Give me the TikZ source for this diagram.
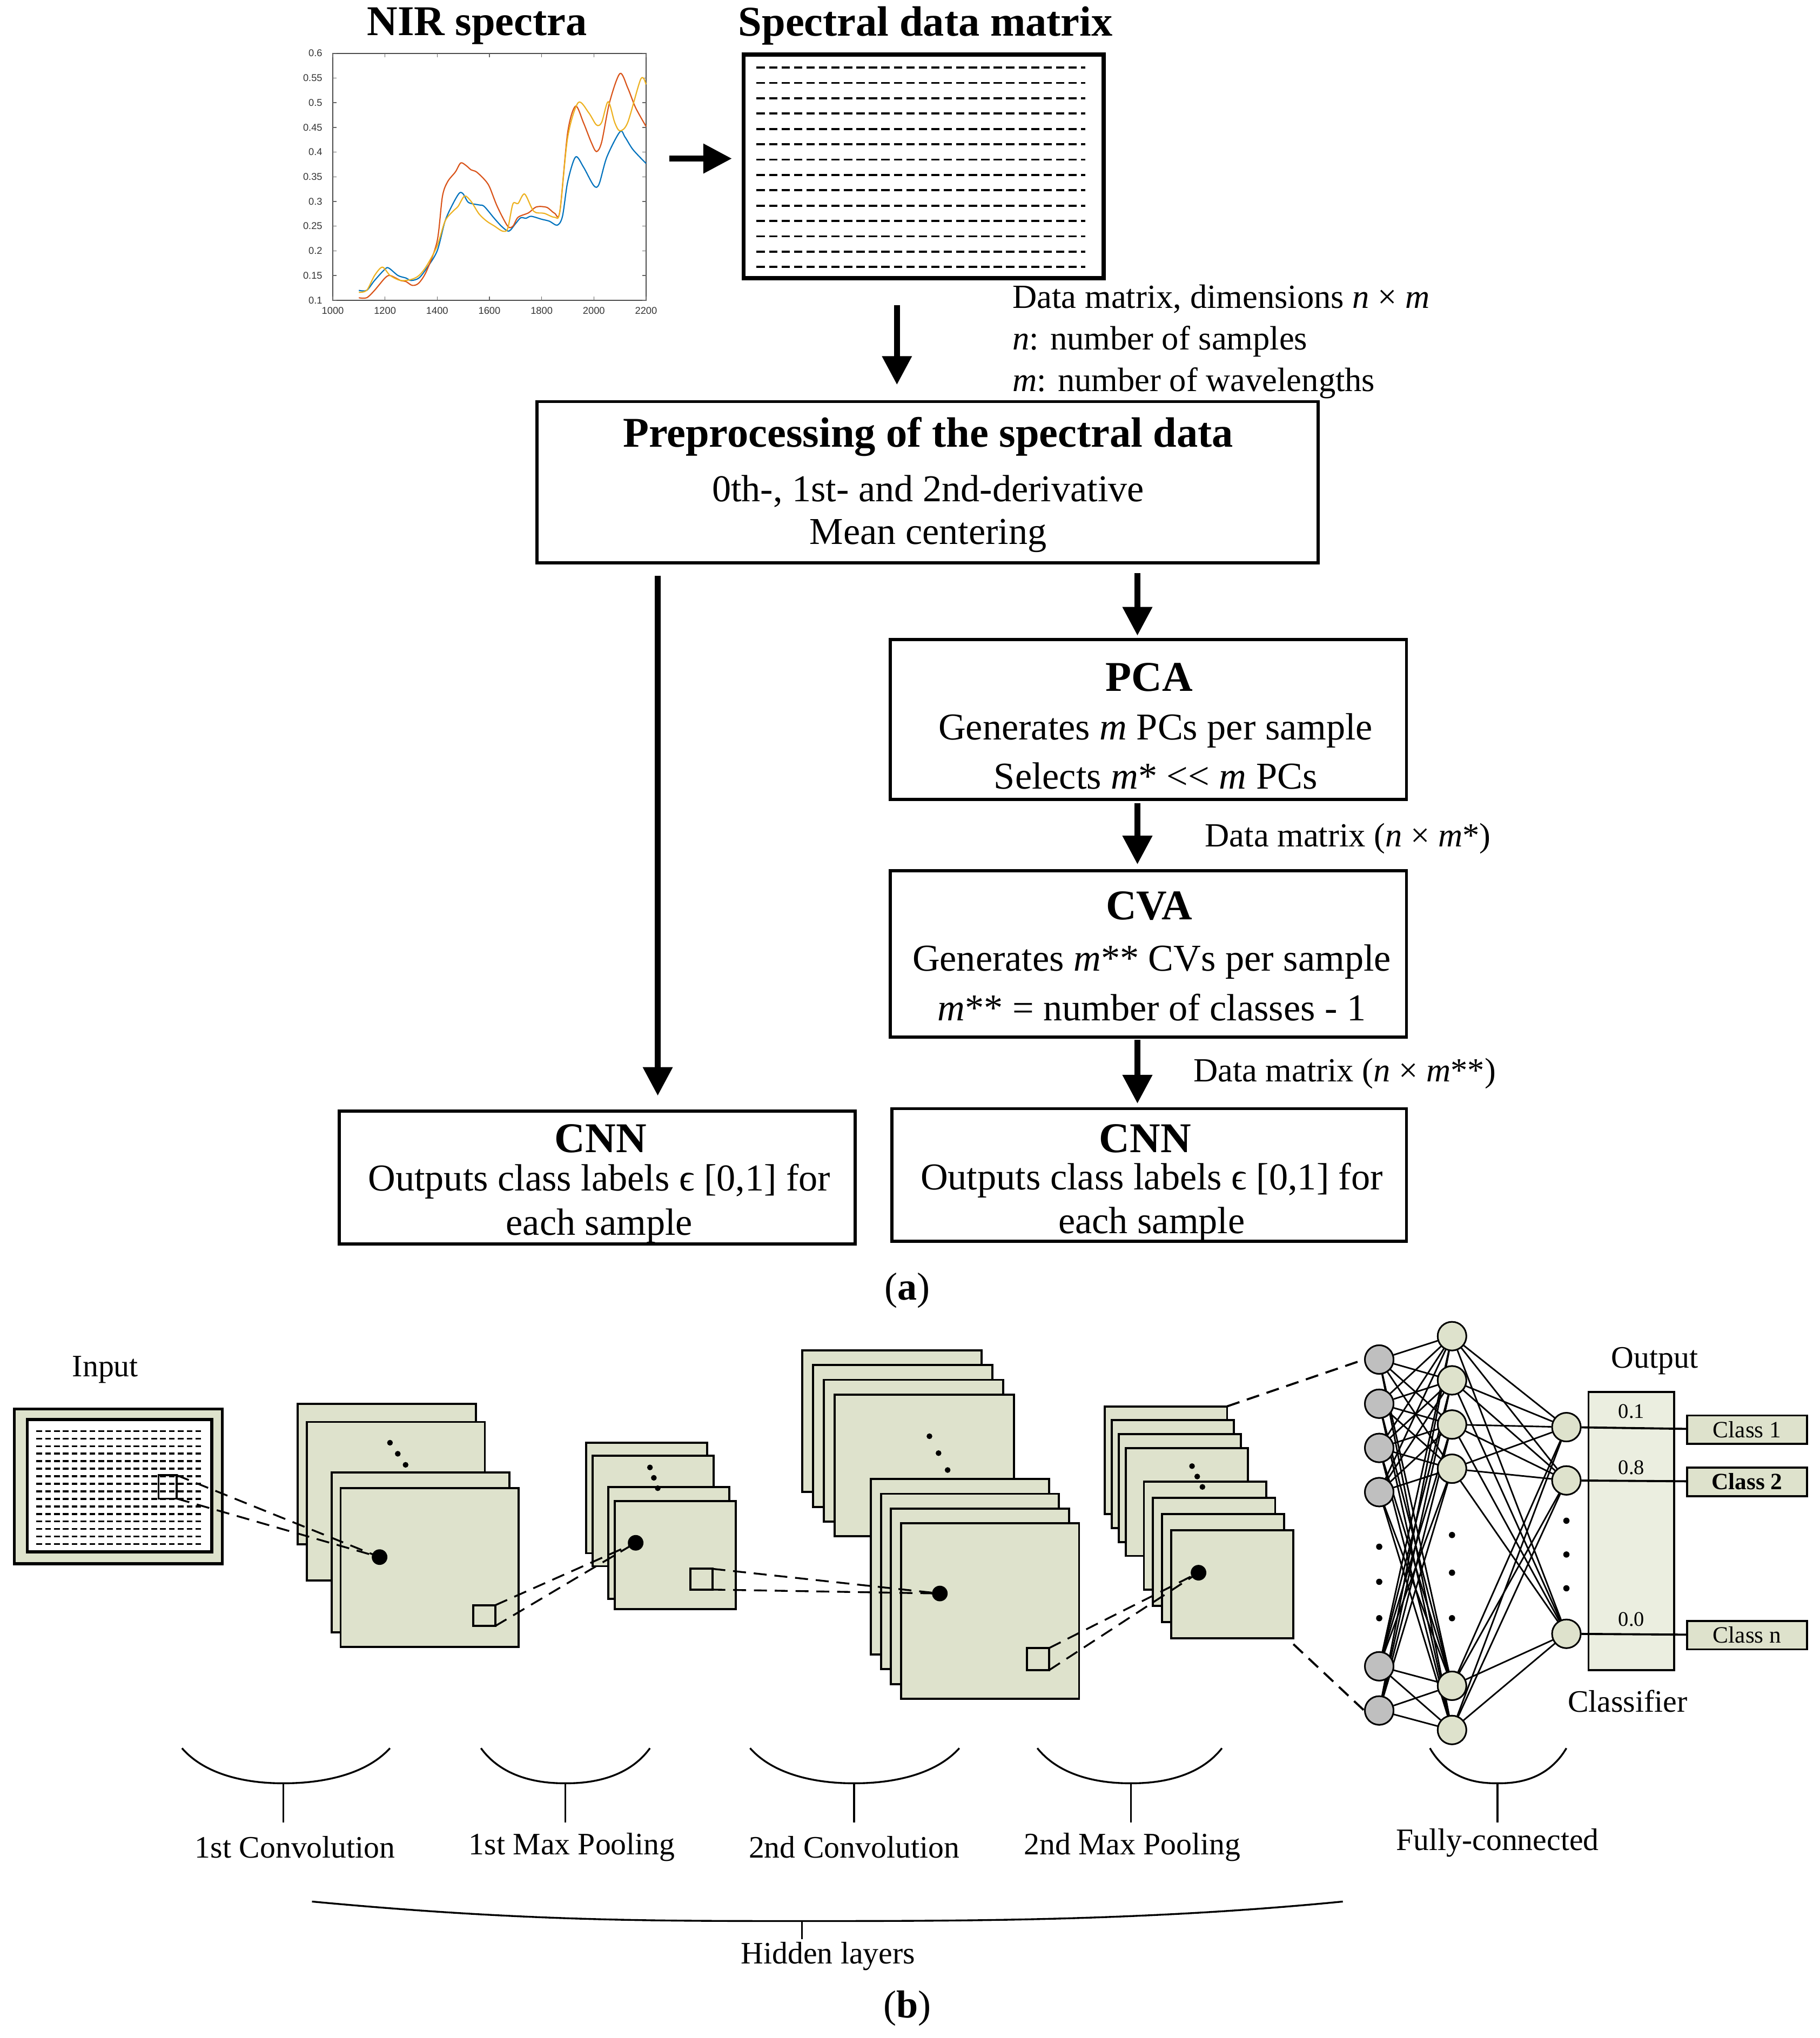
\documentclass[tikz,border=0pt]{standalone}
\usepackage{fontspec}
\setmainfont{Liberation Serif}
\newfontfamily\axf{Liberation Sans}
\usetikzlibrary{arrows.meta}
\definecolor{fmc}{RGB}{222,226,204}
\definecolor{cb}{RGB}{0,114,189}
\definecolor{cr}{RGB}{217,83,25}
\definecolor{cy}{RGB}{237,177,32}
\begin{document}
\begin{tikzpicture}[x=0.5pt,y=-0.5pt,
  box/.style={draw,line width=1.2pt,minimum width=#1,inner sep=0pt},
  bigarrow/.style={line width=2.2pt,-{Triangle[length=11pt,width=11pt]}},
  fm/.style={draw,line width=0.8pt,fill=fmc},
  cl/.style={draw,line width=0.8pt,fill=fmc,minimum width=92*0.5pt,minimum height=22*0.5pt,inner sep=0pt,font=\fontsize{9}{10}\selectfont},
  neu/.style={circle,draw,line width=0.6pt,fill=fmc,minimum size=11pt,inner sep=0pt},
  neg/.style={circle,draw,line width=0.6pt,fill=black!25,minimum size=11pt,inner sep=0pt},
  dsh/.style={line width=0.7pt,dash pattern=on 5pt off 3pt},
  lbl/.style={font=\fontsize{13}{15}\selectfont},
  blbl/.style={font=\fontsize{12}{14}\selectfont},
  bt/.style={font=\fontsize{14.6}{17}\selectfont},
  ttl/.style={font=\bfseries\fontsize{16.3}{19}\selectfont}]
\useasboundingbox (0,0) rectangle (1400,1568);
% ---------- (a) ----------
\node[ttl] (nirt) at (367,20) {NIR spectra};
\node[ttl] (sdmt) at (712,20) {Spectral data matrix};
% plot
\draw[line width=0.4pt,black!70] (256,41) rectangle (497,231);
\foreach \i/\v in {0/1000,1/1200,2/1400,3/1600,4/1800,5/2000,6/2200}{
  \node[font=\axf\fontsize{3.8}{4}\selectfont,black!80] at (256+\i*40.17,239) {\v};
  \draw[black!60,line width=0.3pt] (256+\i*40.17,231) -- ++(0,-3) (256+\i*40.17,41) -- ++(0,3);}
\foreach \i/\v in {0/0.1,1/0.15,2/0.2,3/0.25,4/0.3,5/0.35,6/0.4,7/0.45,8/0.5,9/0.55,10/0.6}{
  \node[font=\axf\fontsize{3.8}{4}\selectfont,black!80,anchor=east] at (255,231-\i*19) {\v};
  \draw[black!60,line width=0.3pt] (256,231-\i*19) -- ++(3,0) (497,231-\i*19) -- ++(-3,0);}
\begin{scope}[shift={(256,231)},x=0.1004pt,y=190pt,line width=0.45pt]
\draw[cb] plot[smooth,tension=0.5] coordinates {(100,.02)(130,.02)(160,.04)(200,.063)(215,.065)(250,.05)(280,.045)(300,.04)(330,.045)(360,.065)(400,.1)(430,.16)(460,.195)(485,.217)(500,.215)(520,.198)(560,.193)(580,.19)(620,.165)(650,.148)(675,.14)(700,.155)(720,.167)(740,.166)(760,.17)(800,.164)(830,.16)(860,.152)(880,.17)(900,.24)(930,.29)(960,.27)(1000,.232)(1020,.235)(1050,.29)(1100,.341)(1120,.33)(1150,.305)(1200,.277)};
\draw[cr] plot[smooth,tension=0.5] coordinates {(100,.005)(130,.005)(160,.02)(200,.045)(220,.05)(260,.04)(280,.038)(305,.03)(330,.035)(360,.06)(400,.12)(420,.21)(440,.24)(470,.26)(490,.278)(510,.273)(530,.264)(550,.26)(580,.245)(600,.23)(630,.19)(670,.15)(690,.15)(710,.168)(750,.177)(780,.189)(820,.188)(850,.176)(870,.18)(900,.34)(930,.393)(960,.36)(990,.32)(1010,.301)(1030,.32)(1060,.4)(1100,.459)(1130,.43)(1160,.39)(1200,.352)};
\draw[cy] plot[smooth,tension=0.5] coordinates {(100,.016)(130,.02)(160,.05)(190,.067)(220,.05)(260,.04)(300,.042)(330,.05)(360,.07)(400,.11)(430,.16)(460,.18)(480,.19)(505,.211)(530,.2)(560,.175)(590,.16)(620,.15)(650,.14)(670,.145)(690,.195)(710,.196)(735,.215)(770,.18)(810,.176)(850,.168)(870,.18)(900,.33)(940,.4)(980,.38)(1010,.355)(1030,.36)(1055,.402)(1080,.36)(1100,.343)(1130,.36)(1180,.448)(1200,.437)};
\end{scope}
\coordinate (a1s) at (515,122); \coordinate (a1e) at (563,122);
\draw[bigarrow] (a1s) -- (a1e);
% matrix
\node[box=277*0.5pt,minimum height=172*0.5pt,line width=1.6pt] (mat) at (710.5,128) {};
\foreach \r in {0,...,13}{\draw[line width=0.8pt,dash pattern=on 3.2pt off 1.6pt] (582,52+\r*11.8) -- (835,52+\r*11.8);}
\coordinate (a2s) at (690,235); \coordinate (a2e) at (690,296);
\draw[bigarrow] (a2s) -- (a2e);
\node[lbl,anchor=west,align=left] (dm) at (772,263) {Data matrix, dimensions \textit{n} × \textit{m}\\[1pt]\textit{n}: number of samples\\[1pt]\textit{m}: number of wavelengths};
% preprocessing
\node[box=601*0.5pt,minimum height=124*0.5pt] (pre) at (713.5,371) {};
\node[ttl] at (714,336) {Preprocessing of the spectral data};
\node[bt] at (714,378) {0th-, 1st- and 2nd-derivative};
\node[bt] at (714,412) {Mean centering};
\coordinate (a3s) at (506,443); \coordinate (a3e) at (506,843);
\draw[bigarrow] (a3s) -- (a3e);
\coordinate (a4s) at (875,441); \coordinate (a4e) at (875,489);
\draw[bigarrow] (a4s) -- (a4e);
% PCA
\node[box=397*0.5pt,minimum height=123*0.5pt] (pca) at (883.5,553.5) {};
\node[ttl] at (884,521) {PCA};
\node[bt] at (889,562) {Generates \textit{m} PCs per sample};
\node[bt] at (889,597) {Selects \textit{m}* {<}{<} \textit{m} PCs};
\coordinate (a5s) at (875,618); \coordinate (a5e) at (875,665);
\draw[bigarrow] (a5s) -- (a5e);
\node[lbl,anchor=west] (l1) at (920,645) {Data matrix (\textit{n} × \textit{m}*)};
% CVA
\node[box=397*0.5pt,minimum height=128*0.5pt] (cva) at (883.5,734) {};
\node[ttl] at (884,697) {CVA};
\node[bt] at (886,740) {Generates \textit{m}** CVs per sample};
\node[bt] at (886,775) {\textit{m}** = number of classes - 1};
\coordinate (a6s) at (875,800); \coordinate (a6e) at (875,849);
\draw[bigarrow] (a6s) -- (a6e);
\node[lbl,anchor=west] (l2) at (911,826) {Data matrix (\textit{n} × \textit{m}**)};
% CNN boxes
\node[box=397*0.5pt,minimum height=102*0.5pt] (cnn1) at (459.5,906) {};
\node[ttl] at (462,876) {CNN};
\node[bt] at (461,909) {Outputs class labels ϵ [0,1] for};
\node[bt] at (461,943) {each sample};
\node[box=396*0.5pt,minimum height=102*0.5pt] (cnn2) at (884,904) {};
\node[ttl] at (881,876) {CNN};
\node[bt] at (886,908) {Outputs class labels ϵ [0,1] for};
\node[bt] at (886,942) {each sample};
\node[font=\fontsize{15}{17}\selectfont] (pa) at (698,993) {(\textbf{a})};
% ---------- (b) ----------
\node[blbl] (inp) at (81,1054) {Input};
\draw[fm,line width=1.2pt] (11,1084) rectangle (171,1203);
\draw[line width=1.2pt,fill=white] (21,1092) rectangle (163,1194);
\foreach \r in {0,...,15}{\draw[line width=0.7pt,dash pattern=on 2.2pt off 1.2pt] (28,1101+\r*5.8) -- (157,1101+\r*5.8);}
\draw[line width=0.8pt] (122,1135) rectangle (136,1153);
% conv1
\draw[fm] (229,1080) rectangle (366,1188);
\draw[fm] (236,1094) rectangle (373,1216);
\draw[fm] (255,1133) rectangle (392,1256);
\draw[fm] (262,1145) rectangle (399,1267);
\foreach \d in {0,1,2}\fill (300+\d*6,1110+\d*8.5) circle (1.1pt);
\fill (292,1198) circle (3pt);
\draw[line width=0.8pt] (364,1235) rectangle (381,1251);
% pool1
\draw[fm] (451,1110) rectangle (544,1195);
\draw[fm] (456,1120) rectangle (549,1205);
\draw[fm] (468,1144) rectangle (561,1230);
\draw[fm] (473,1155) rectangle (566,1238);
\foreach \d in {0,1,2}\fill (500+\d*3,1129+\d*8) circle (1.1pt);
\fill (489,1187) circle (3pt);
\draw[line width=0.8pt] (531,1207) rectangle (548,1223);
% conv2
\foreach \i in {0,1,2,3}\draw[fm] (617+\i*8.3,1039+\i*11.3) rectangle ++(138,109);
\foreach \i in {0,1,2,3}\draw[fm] (670+\i*7.7,1138+\i*11.3) rectangle ++(137,135);
\foreach \d in {0,1,2}\fill (715+\d*7,1105+\d*13) circle (1.1pt);
\fill (723,1226) circle (3pt);
\draw[line width=0.8pt] (790,1268) rectangle (807,1285);
% pool2
\foreach \i in {0,1,2,3}\draw[fm] (850+\i*5.3,1082+\i*10.7) rectangle ++(94,83);
\foreach \i in {0,1,2,3}\draw[fm] (880+\i*7,1140+\i*12.5) rectangle ++(94,83);
\foreach \d in {0,1,2}\fill (917+\d*4,1128+\d*8) circle (1.1pt);
\fill (922,1210) circle (3pt);
% dashed connectors
\coordinate (d0) at (292,1198); \coordinate (d1) at (489,1187);
\coordinate (d2) at (723,1226); \coordinate (d3) at (922,1210);
\draw[dsh] (136,1135) -- (d0); \draw[dsh] (136,1153) -- (d0);
\draw[dsh] (381,1235) -- (d1); \draw[dsh] (381,1251) -- (d1);
\draw[dsh] (548,1207) -- (d2); \draw[dsh] (548,1223) -- (d2);
\draw[dsh] (807,1268) -- (d3); \draw[dsh] (807,1285) -- (d3);
% FC network
\foreach \n/\y in {1/1046,2/1080,3/1114,4/1148,5/1282,6/1316}\node[neg] (i\n) at (1061,\y) {};
\foreach \n/\y in {1/1028,2/1062,3/1096,4/1130,5/1297,6/1331}\node[neu] (h\n) at (1117,\y) {};
\foreach \n/\y in {1/1098,2/1139,3/1257}\node[neu] (o\n) at (1205,\y) {};
\draw[dsh,line width=0.8pt] (944,1082) -- (i1.west);
\draw[dsh,line width=0.8pt] (995,1265) -- (i6.west);
\foreach \a in {1,...,6}\foreach \b in {1,...,6}\draw[line width=0.6pt] (i\a) -- (h\b);
\foreach \a in {1,...,6}\foreach \b in {1,2,3}\draw[line width=0.6pt] (h\a) -- (o\b);
\foreach \n/\y in {1/1046,2/1080,3/1114,4/1148,5/1282,6/1316}\node[neg] at (1061,\y) {};
\foreach \n/\y in {1/1028,2/1062,3/1096,4/1130,5/1297,6/1331}\node[neu] at (1117,\y) {};
\foreach \y in {1190,1217,1245}\fill (1061,\y) circle (1.2pt);
\foreach \y in {1181,1210,1245}\fill (1117,\y) circle (1.2pt);
\foreach \y in {1170,1196,1222}\fill (1205,\y) circle (1.2pt);
\node[draw,line width=0.8pt,fill=fmc!60,minimum width=66*0.5pt,minimum height=214*0.5pt,inner sep=0pt] (clf) at (1255,1178) {};
\foreach \n/\y in {1/1098,2/1139,3/1257}\node[neu] at (1205,\y) {};
\node[cl] (c1) at (1344,1100) {Class 1};
\node[cl] (c2) at (1344,1140) {\textbf{Class 2}};
\node[cl] (c3) at (1344,1258) {Class n};
\draw[line width=0.8pt] (o1) -- (c1); \draw[line width=0.8pt] (o2) -- (c2); \draw[line width=0.8pt] (o3) -- (c3);
\node[font=\fontsize{8}{9}\selectfont] at (1255,1086) {0.1};
\node[font=\fontsize{8}{9}\selectfont] at (1255,1129) {0.8};
\node[font=\fontsize{8}{9}\selectfont] at (1255,1246) {0.0};
\node[blbl] (outl) at (1273,1047) {Output};
\node[blbl] (clfl) at (1252,1309) {Classifier};
% brackets
\foreach \a/\c/\b in {140/218/300,370/435/500,577/657/738,798/870/940,1100/1152/1205}{
  \draw[line width=0.7pt] (\a,1345) .. controls (\a+0.3*\c-0.3*\a,1372) and (\c-10,1372) .. (\c,1372)
     .. controls (\c+10,1372) and (\b-0.3*\b+0.3*\c,1372) .. (\b,1345);
  \draw[line width=0.7pt] (\c,1372) -- (\c,1402);}
\node[blbl] at (227,1421) {1st Convolution};
\node[blbl] at (440,1421) {1st Max Pooling};
\node[blbl] at (657,1421) {2nd Convolution};
\node[blbl] at (871,1421) {2nd Max Pooling};
\node[blbl] at (1152,1418) {Fully-connected};
\draw[line width=0.7pt] (240,1463) .. controls (400,1478) and (500,1478) .. (617,1478) .. controls (740,1478) and (880,1478) .. (1033,1463);
\draw[line width=0.7pt] (617,1478) -- (617,1492);
\node[blbl] at (637,1505) {Hidden layers};
\node[font=\fontsize{15}{17}\selectfont] (pb) at (698,1545) {(\textbf{b})};
\end{tikzpicture}
\end{document}
